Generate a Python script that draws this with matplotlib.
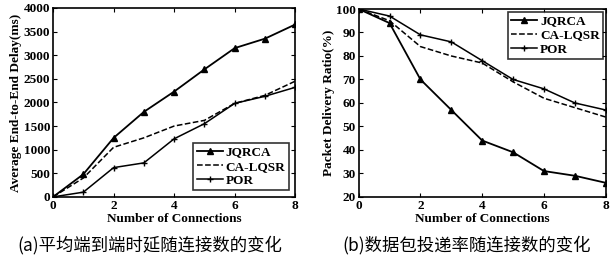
import numpy as np
import matplotlib.pyplot as plt

# data
conns = [0, 1, 2, 3, 4, 5, 6, 7, 8]

delay_jqrca = [0, 480, 1250, 1800, 2230, 2700, 3150, 3350, 3650]
delay_calqsr = [0, 400, 1050, 1250, 1500, 1620, 1980, 2150, 2450]
delay_por = [0, 100, 620, 720, 1230, 1550, 1980, 2130, 2320]

pdr_jqrca = [100, 94, 70, 57, 44, 39, 31, 29, 26]
pdr_calqsr = [100, 95, 84, 80, 77, 69, 62, 58, 54]
pdr_por = [100, 97, 89, 86, 78, 70, 66, 60, 57]

series_names = ['JQRCA', 'CA-LQSR', 'POR']
captions = ['(a)平均端到端时延随连接数的变化', '(b)数据包投递率随连接数的变化']

plt.rcParams['font.family'] = ['Liberation Serif', 'DejaVu Serif']
plt.rcParams['axes.linewidth'] = 1.2

fig = plt.figure(figsize=(6.1, 2.65), dpi=100)
ax1 = fig.add_axes([0.087, 0.257, 0.397, 0.713])
ax2 = fig.add_axes([0.588, 0.257, 0.405, 0.709])


def draw(ax, jq, ca, por):
    ax.plot(conns, jq, 'k-', marker='^', ms=4.5, lw=1.3, label=series_names[0])
    ax.plot(conns, ca, 'k--', lw=1.1, label=series_names[1])
    ax.plot(conns, por, 'k-', marker='+', ms=5, mew=1.0, lw=1.1, label=series_names[2])
    ax.set_xlim(0, 8)
    ax.set_xticks([0, 2, 4, 6, 8])
    ax.tick_params(direction='in', length=3, top=True, right=True, labelsize=9.5, pad=2)
    for t in ax.get_xticklabels() + ax.get_yticklabels():
        t.set_fontweight('bold')
    ax.set_xlabel('Number of Connections', fontsize=9.5, fontweight='bold', labelpad=1)


def add_legend(ax, loc, pad):
    leg = ax.legend(loc=loc, fontsize=9.5, frameon=True, fancybox=False,
                    edgecolor='k', handlelength=2.0, borderpad=0.25, labelspacing=0.15,
                    handletextpad=0.2, borderaxespad=pad)
    leg.get_frame().set_linewidth(1.2)
    for t in leg.get_texts():
        t.set_fontweight('bold')


draw(ax1, delay_jqrca, delay_calqsr, delay_por)
ax1.set_ylim(0, 4000)
ax1.set_yticks(np.arange(0, 4001, 500))
ax1.set_ylabel('Average End-to-End Delay(ms)', fontsize=9.5, fontweight='bold', labelpad=1)
add_legend(ax1, 'lower right', 0.5)

draw(ax2, pdr_jqrca, pdr_calqsr, pdr_por)
ax2.set_ylim(20, 100)
ax2.set_yticks(np.arange(20, 101, 10))
ax2.set_ylabel('Packet Delivery Ratio(%)', fontsize=9.5, fontweight='bold', labelpad=1)
add_legend(ax2, 'upper right', 0.2)

fig.text(0.245, 0.075, captions[0], ha='center', va='center', fontsize=12.5,
         family=['Noto Sans CJK SC', 'DejaVu Sans'])
fig.text(0.765, 0.075, captions[1], ha='center', va='center', fontsize=12.5,
         family=['Noto Sans CJK SC', 'DejaVu Sans'])

fig.savefig('out.png', dpi=100)
